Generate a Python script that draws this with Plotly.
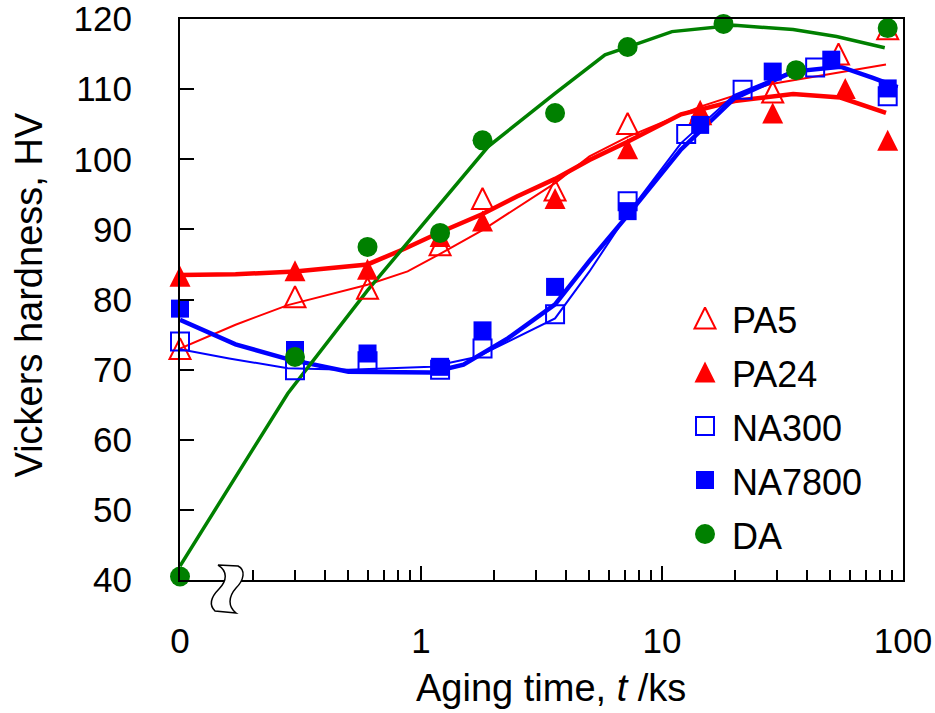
import plotly.graph_objects as go

# Vickers hardness vs aging time; t = 0 is drawn at ZERO_POS on the log axis
ZERO_POS = 0.1

# measured points (aging time in ks, hardness in HV)
pa5_t = [0, 0.3, 0.6, 1.2, 1.8, 3.6, 7.2, 14.4, 28.8, 54.0, 86.4]
pa5_hv = [73.0, 80.4, 81.6, 87.8, 94.4, 95.6, 105.1, 106.5, 109.6, 115.0, 118.6]

pa24_t = [0, 0.3, 0.6, 1.2, 1.8, 3.6, 7.2, 14.4, 28.8, 57.6, 86.4]
pa24_hv = [83.3, 84.1, 84.3, 89.0, 91.2, 94.4, 101.5, 107.0, 106.6, 110.1, 102.7]

na300_t = [0, 0.3, 0.6, 1.2, 1.8, 3.6, 7.2, 12.6, 21.6, 43.2, 86.4]
na300_hv = [74.0, 69.9, 71.2, 70.0, 73.0, 77.9, 94.0, 103.6, 109.9, 113.1, 109.0]

na7800_t = [0, 0.3, 0.6, 1.2, 1.8, 3.6, 7.2, 14.4, 28.8, 50.4, 86.4]
na7800_hv = [78.7, 72.8, 72.3, 70.4, 75.6, 81.8, 92.6, 104.9, 112.5, 114.2, 110.1]

da_t = [0, 0.3, 0.6, 1.2, 1.8, 3.6, 7.2, 18.0, 36.0, 86.4]
da_hv = [40.5, 71.8, 87.5, 89.5, 102.7, 106.6, 116.0, 119.3, 112.7, 118.7]

# fitted trend curves
pa5_fit_t = [0, 0.17, 0.28, 0.4, 0.6, 0.88, 1.2, 1.8, 2.6, 3.6, 5.0, 7.2, 14.4, 28.0, 85.0]
pa5_fit_hv = [73.0, 76.4, 79.2, 80.6, 82.1, 84.0, 86.5, 89.9, 93.4, 96.6, 100.4, 103.2, 107.5, 110.7, 113.5]

pa24_fit_t = [0, 0.17, 0.3, 0.6, 0.85, 1.2, 1.8, 2.5, 3.6, 5.0, 7.2, 12.0, 20.0, 35.0, 55.0, 85.0]
pa24_fit_hv = [83.5, 83.6, 84.0, 85.0, 87.2, 89.6, 92.2, 94.7, 97.2, 99.9, 102.5, 106.4, 108.3, 109.3, 108.8, 106.6]

na300_fit_t = [0, 0.16, 0.28, 0.5, 1.1, 1.7, 2.3, 3.6, 5.0, 7.2, 12.0, 20.0, 35.0, 55.0, 75.0, 95.0]
na300_fit_hv = [72.9, 71.6, 70.2, 70.0, 70.4, 71.8, 74.0, 77.3, 84.0, 92.2, 102.3, 109.2, 112.6, 113.2, 111.6, 110.3]

na7800_fit_t = [0, 0.17, 0.28, 0.5, 1.1, 1.5, 2.3, 3.6, 5.0, 7.2, 12.0, 20.0, 35.0, 55.0, 75.0, 95.0]
na7800_fit_hv = [77.1, 73.6, 71.5, 69.7, 69.6, 70.7, 74.5, 79.3, 85.5, 92.0, 101.4, 108.7, 112.5, 113.2, 111.6, 110.3]

da_fit_t = [0, 0.28, 0.6, 1.2, 1.9, 3.6, 5.8, 7.2, 11.0, 20.0, 35.0, 53.0, 84.0]
da_fit_hv = [42.0, 66.6, 81.3, 93.7, 101.8, 109.4, 114.9, 116.0, 118.2, 119.1, 118.5, 117.5, 115.9]

x_tickvals = [ZERO_POS, 1, 10, 100]
x_ticktext = ["0", "1", "10", "100"]
x_minor = [0.2, 0.3, 0.4, 0.5, 0.6, 0.7, 0.8, 0.9,
           2, 3, 4, 5, 6, 7, 8, 9,
           20, 30, 40, 50, 60, 70, 80, 90]
y_tickvals = [40, 50, 60, 70, 80, 90, 100, 110, 120]

RED, BLUE, GREEN = "#FF0000", "#0000FF", "#008000"
FONT = "Liberation Sans, Arial, sans-serif"

# plot area in pixels
W, H = 935, 713
L, R, T, B = 180, 903, 19, 580


def tpos(ts):
    return [ZERO_POS if t == 0 else t for t in ts]


def px(x, y):
    return f"{(x - L) / (R - L):.4f},{(B - y) / (B - T):.4f}"


fig = go.Figure()

# trend lines (thin for open symbols, thick for filled symbols)
fits = [
    (pa5_fit_t, pa5_fit_hv, RED, 2),
    (pa24_fit_t, pa24_fit_hv, RED, 4.5),
    (na300_fit_t, na300_fit_hv, BLUE, 2),
    (na7800_fit_t, na7800_fit_hv, BLUE, 4.5),
    (da_fit_t, da_fit_hv, GREEN, 3.5),
]
for ft, fh, col, w in fits:
    fig.add_trace(go.Scatter(x=tpos(ft), y=fh, mode="lines",
                             line=dict(color=col, width=w),
                             showlegend=False, hoverinfo="skip"))

# upright triangles of equal width and height: an arrow rotated and centred
tri = dict(symbol="arrow-down", angle=180, standoff=10.5, size=21)
tri_open = dict(symbol="arrow-down-open", angle=180, standoff=10.5, size=21)

series = [
    ("PA5", pa5_t, pa5_hv, dict(tri_open, color=RED, line=dict(color=RED, width=2))),
    ("PA24", pa24_t, pa24_hv, dict(tri, color=RED, line=dict(width=0))),
    ("NA300", na300_t, na300_hv, dict(symbol="square-open", size=18, color=BLUE,
                                      line=dict(color=BLUE, width=2))),
    ("NA7800", na7800_t, na7800_hv, dict(symbol="square", size=18, color=BLUE,
                                         line=dict(width=0))),
    ("DA", da_t, da_hv, dict(symbol="circle", size=20, color=GREEN, line=dict(width=0))),
]
for name, t, hv, mk in series:
    fig.add_trace(go.Scatter(x=tpos(t), y=hv, mode="markers", name=name,
                             marker=mk, cliponaxis=False, showlegend=False))

# key: symbols on a pixel-scaled overlay axis, labels as text beside them
KEY_X, KEY_TEXT_X, KEY_ROW0, KEY_STEP = 705, 730, 318, 54
for i, (name, t, hv, mk) in enumerate(series):
    row = KEY_ROW0 + i * KEY_STEP
    fig.add_trace(go.Scatter(x=[KEY_X], y=[row], mode="markers", marker=mk,
                             xaxis="x2", yaxis="y2", cliponaxis=False,
                             showlegend=False, hoverinfo="skip"))
    fig.add_annotation(text=name, xref="paper", yref="paper",
                       x=(KEY_TEXT_X - L) / (R - L), y=(B - row - 2) / (B - T),
                       xanchor="left", yanchor="middle", showarrow=False,
                       font=dict(family=FONT, size=36, color="black"))

# axis-break mark on the time axis
brk = ("M " + px(218, 565) + " L " + px(238, 566)
       + " C " + px(246, 570) + " " + px(244, 580) + " " + px(236, 588)
       + " C " + px(228, 597) + " " + px(228, 607) + " " + px(236, 613)
       + " L " + px(215, 611)
       + " C " + px(209, 605) + " " + px(211, 597) + " " + px(219, 589)
       + " C " + px(227, 581) + " " + px(228, 571) + " " + px(218, 565) + " Z")
fig.add_shape(type="path", path=brk, xref="paper", yref="paper",
              fillcolor="white", line=dict(color="black", width=1.5), layer="above")

axis_common = dict(showline=True, linecolor="black", linewidth=2, mirror=True,
                   ticks="inside", ticklen=14, tickwidth=1.5, tickcolor="black",
                   showgrid=False, zeroline=False, ticklabeloverflow="allow",
                   tickfont=dict(family=FONT, size=35, color="black"))

fig.update_layout(
    xaxis=dict(type="log", range=[-1, 2], tickmode="array",
               tickvals=x_tickvals, ticktext=x_ticktext,
               ticklabelstandoff=29,
               minor=dict(tickmode="array", tickvals=x_minor, ticks="inside",
                          ticklen=10, tickwidth=1.5, tickcolor="black", showgrid=False),
               **axis_common),
    yaxis=dict(range=[40, 120], tickmode="array", tickvals=y_tickvals,
               ticklabelstandoff=39, **axis_common),
    xaxis2=dict(overlaying="x", range=[L, R], visible=False, fixedrange=True),
    yaxis2=dict(overlaying="y", range=[B, T], visible=False, fixedrange=True),
)

fig.add_annotation(text="Aging time, <i>t</i> /ks", xref="paper", yref="paper",
                   x=(551 - L) / (R - L), y=(B - 688) / (B - T),
                   xanchor="center", yanchor="middle", showarrow=False,
                   font=dict(family=FONT, size=38, color="black"))
fig.add_annotation(text="Vickers hardness, HV", xref="paper", yref="paper",
                   x=(28.5 - L) / (R - L), y=(B - 295) / (B - T), textangle=-90,
                   xanchor="center", yanchor="middle", showarrow=False,
                   font=dict(family=FONT, size=38, color="black"))

fig.update_layout(
    width=W, height=H,
    margin=dict(l=L, r=W - R, t=T, b=H - B, autoexpand=False),
    plot_bgcolor="white", paper_bgcolor="white",
    font=dict(family=FONT, color="black"),
    showlegend=False,
)

fig.write_html("out.html")
